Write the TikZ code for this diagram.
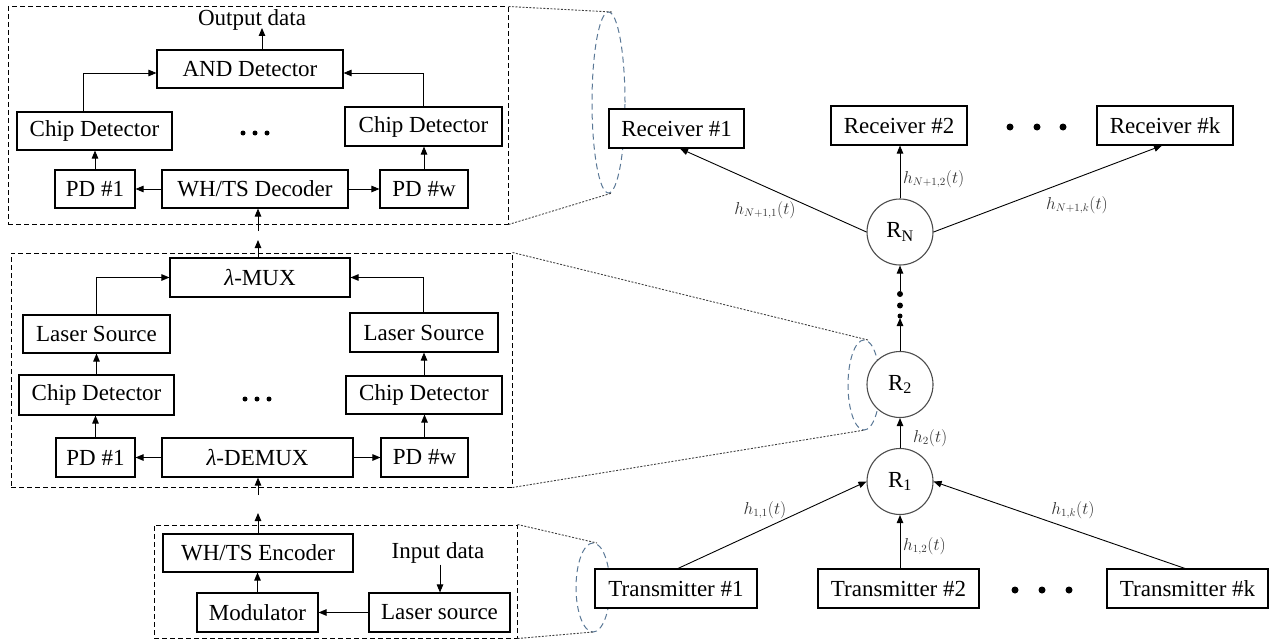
\documentclass[tikz,border=0pt]{standalone}
\usepackage{fontspec}
\setmainfont{Liberation Serif}
\usetikzlibrary{arrows.meta}
\definecolor{ellcol}{HTML}{5A7896}
\begin{document}
\begin{tikzpicture}[x=1pt,y=-1pt,
  blk/.style={draw, line width=1.1pt, fill=white, inner sep=0pt, minimum height=39pt, font=\fontsize{23}{27}\selectfont},
  rnode/.style={draw=black!70, line width=1.1pt, fill=white, circle, minimum size=66pt, inner sep=0pt, font=\fontsize{23}{27}\selectfont},
  arr/.style={line width=0.9pt, -{Triangle[length=8pt,width=6.5pt]}},
  dbox/.style={draw, dash pattern=on 5pt off 3pt, line width=1pt, inner sep=0pt},
  zoomln/.style={draw=black!75, line width=0.9pt, dash pattern=on 2pt off 1.5pt},
  ell/.style={draw=ellcol, line width=1pt, dash pattern=on 6pt off 4pt},
  lbl/.style={text=black!80, font=\fontsize{16}{19}\selectfont, inner sep=0pt},
  txt/.style={font=\fontsize{23}{27}\selectfont, inner sep=0pt},
  bdot/.style={circle, fill, inner sep=0pt, minimum size=6pt}
]
\useasboundingbox (0,0) rectangle (1271,642);

% ---- dashed frames ----
\node[dbox, minimum width=500pt, minimum height=217pt] (boxT) at (258,115.5) {};
\node[dbox, minimum width=501pt, minimum height=234pt] (boxM) at (261.5,370) {};
\node[dbox, minimum width=363pt, minimum height=113pt] (boxB) at (335.5,581.5) {};

% ---- zoom ellipses and lines ----
\draw[ell] (608.5,102.5) ellipse [x radius=16.5pt, y radius=90.5pt];
\draw[ell] (864,385) ellipse [x radius=16pt, y radius=45pt];
\draw[ell] (593,587.5) ellipse [x radius=17pt, y radius=44.5pt];
\coordinate (eTt) at (612,12);
\coordinate (eTb) at (612,193);
\coordinate (eMt) at (868,340);
\coordinate (eMb) at (865,430);
\coordinate (eBt) at (597,543);
\coordinate (eBb) at (593,632);
\draw[zoomln] (boxT.north east) -- (eTt);
\draw[zoomln] (boxT.south east) -- (eTb);
\draw[zoomln] (boxM.north east) -- (eMt);
\draw[zoomln] (boxM.south east) -- (eMb);
\draw[zoomln] (boxB.north east) -- (eBt);
\draw[zoomln] (boxB.south east) -- (eBb);

% ---- top frame: receiver ----
\node[txt] (out) at (252,20) {Output data};
\node[blk, minimum width=186pt, minimum height=38pt] (and) at (250,69) {AND Detector};
\node[blk, minimum width=155pt, minimum height=38pt] (cdL1) at (94.5,131) {Chip Detector};
\node[blk, minimum width=157pt, minimum height=39pt] (cdR1) at (423.5,126.5) {Chip Detector};
\node[blk, minimum width=80pt, minimum height=38pt] (pd1a) at (95,189) {PD \#1};
\node[blk, minimum width=186pt, minimum height=38pt] (dec) at (255,189) {WH/TS Decoder};
\node[blk, minimum width=88pt, minimum height=38pt] (pdwa) at (424,189) {PD \#w};
\node[bdot, minimum size=5pt] (d1a) at (243,133) {};
\node[bdot, minimum size=5pt] (d1b) at (255,133) {};
\node[bdot, minimum size=5pt] (d1c) at (267,133) {};
\coordinate (o1) at (262,28);
\draw[arr] (and.north -| o1) -- (o1);
\draw[arr] ([xshift=-11pt]cdL1.north) |- ([yshift=-4pt]and.west);
\draw[arr] (cdR1.north) |- ([yshift=-4pt]and.east);
\draw[arr] (pd1a.north) -- (pd1a.north |- cdL1.south);
\draw[arr] (pdwa.north) -- (pdwa.north |- cdR1.south);
\draw[arr] (dec.west) -- (pd1a.east);
\draw[arr] (dec.east) -- (pdwa.west);

% ---- middle frame: relay ----
\node[blk, minimum width=180pt] (mux) at (260,277.5) {{\itshape λ}-MUX};
\node[blk, minimum width=147pt, minimum height=38pt] (lsL) at (96.5,334) {Laser Source};
\node[blk, minimum width=148pt] (lsR) at (424,332.5) {Laser Source};
\node[blk, minimum width=155pt, minimum height=40pt] (cdL2) at (96.5,395) {Chip Detector};
\node[blk, minimum width=156pt, minimum height=38pt] (cdR2) at (424,395) {Chip Detector};
\node[blk, minimum width=79pt] (pd1b) at (95.5,457.5) {PD \#1};
\node[blk, minimum width=191pt] (demux) at (257.5,457.5) {{\itshape λ}-DEMUX};
\node[blk, minimum width=87pt] (pdwb) at (424.5,457.5) {PD \#w};
\node[bdot, minimum size=5pt] (d2a) at (245,399) {};
\node[bdot, minimum size=5pt] (d2b) at (257,399) {};
\node[bdot, minimum size=5pt] (d2c) at (269,399) {};
\draw[arr] (lsL.north) |- (mux.west);
\draw[arr] ([xshift=-1pt]lsR.north) |- (mux.east);
\draw[arr] (cdL2.north) -- (lsL.south);
\draw[arr] (cdR2.north) -- (lsR.south);
\draw[arr] (pd1b.north) -- (pd1b.north |- cdL2.south);
\draw[arr] (pdwb.north) -- (pdwb.north |- cdR2.south);
\draw[arr] (demux.west) -- (pd1b.east);
\draw[arr] (demux.east) -- (pdwb.west);
\coordinate (g1) at (258,240);
\coordinate (g2) at (258,231);
\draw[arr] (mux.north -| g1) -- (g1);
\draw[arr] (g2) -- (dec.south -| g2);

% ---- bottom frame: transmitter ----
\node[blk, minimum width=190pt, minimum height=38pt] (enc) at (258,553) {WH/TS Encoder};
\node[txt] (in) at (438,553) {Input data};
\node[blk, minimum width=141pt] (lsB) at (439.5,612.5) {Laser source};
\node[blk, minimum width=121pt] (mod) at (257.5,612.5) {Modulator};
\draw[arr] ([xshift=2pt]in.south) ++(0,-1pt) -- ([xshift=0.5pt]lsB.north);
\draw[arr] (lsB.west) -- (mod.east);
\draw[arr] (mod.north) -- (enc.south -| mod.north);
\coordinate (g3) at (258,513);
\coordinate (g4) at (258,495);
\draw[arr] (enc.north -| g3) -- (g3);
\draw[arr] (g4) -- (demux.south -| g4);

% ---- right: network ----
\node[blk, minimum width=135pt] (rx1) at (676.5,128.5) {Receiver \#1};
\node[blk, minimum width=136pt] (rx2) at (899,125.5) {Receiver \#2};
\node[blk, minimum width=136pt] (rxk) at (1165,125.5) {Receiver \#k};
\node[bdot, minimum size=7pt] (d3a) at (1010,127) {};
\node[bdot, minimum size=7pt] (d3b) at (1037,127) {};
\node[bdot, minimum size=7pt] (d3c) at (1063,127) {};

\node[rnode] (rN) at (900,232) {R\textsubscript{N}};
\node[rnode] (r2) at (900,384.5) {R\textsubscript{2}};
\node[rnode] (r1) at (900,481.5) {R\textsubscript{1}};

\node[blk, minimum width=162pt] (tx1) at (676,588.5) {Transmitter \#1};
\node[blk, minimum width=161pt] (tx2) at (898.5,588.5) {Transmitter \#2};
\node[blk, minimum width=161pt] (txk) at (1187.5,588.5) {Transmitter \#k};
\node[bdot, minimum size=7pt] (d4a) at (1015,590) {};
\node[bdot, minimum size=7pt] (d4b) at (1042,590) {};
\node[bdot, minimum size=7pt] (d4c) at (1069,590) {};

\draw[arr] (rN.west) -- ([xshift=3.5pt]rx1.south);
\draw[arr] (rN.north) -- (rN.north |- rx2.south);
\draw[arr] (rN.east) -- ([xshift=-3pt]rxk.south);
\draw[arr] ([xshift=2pt]tx1.north) -- (r1.west);
\draw[arr] (tx2.north -| r1.south) -- (r1.south);
\draw[arr] ([xshift=-2.5pt]txk.north) -- (r1.east);
\draw[arr] (r1.north) -- (r2.south);
\coordinate (c1) at (900,318);
\coordinate (c2) at (900,291);
\draw[arr] (r2.north) -- (c1);
\draw[arr] (c2) -- (rN.south);
\node[bdot] (d5a) at (900,294) {};
\node[bdot] (d5b) at (900,305.5) {};
\node[bdot, minimum size=5pt] (d5c) at (900,316) {};

% ---- channel labels ----
\node[lbl] (l1) at (765,210) {$h_{N+1,1}\bigl(t\bigr)$};
\node[lbl, anchor=west] (l2) at (903,179) {$h_{N+1,2}\bigl(t\bigr)$};
\node[lbl] (l3) at (1077,205) {$h_{N+1,k}\bigl(t\bigr)$};
\node[lbl, anchor=west] (l4) at (913,438) {$h_{2}\bigl(t\bigr)$};
\node[lbl] (l5) at (765,510) {$h_{1,1}\bigl(t\bigr)$};
\node[lbl, anchor=west] (l6) at (903,546) {$h_{1,2}\bigl(t\bigr)$};
\node[lbl] (l7) at (1073,510) {$h_{1,k}\bigl(t\bigr)$};
\end{tikzpicture}
\end{document}
